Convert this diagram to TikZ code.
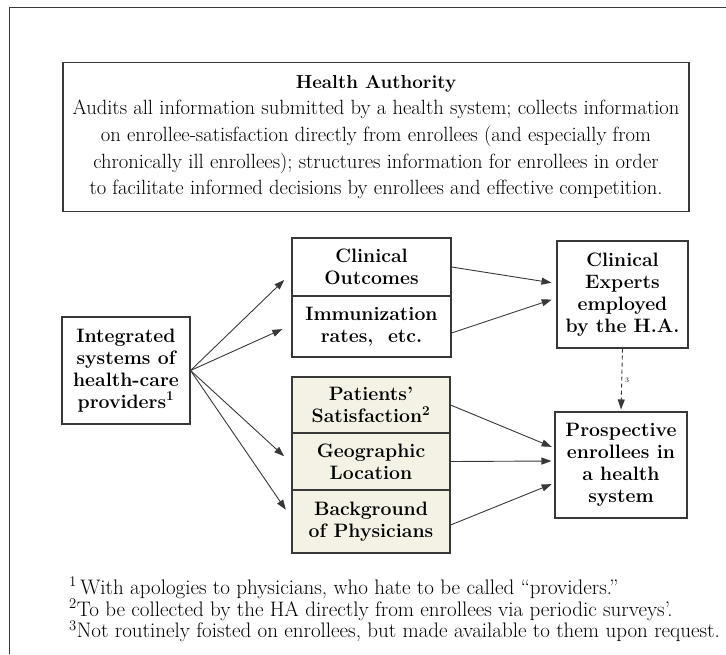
\documentclass[tikz,border=0pt]{standalone}
\usepackage{fontspec}
\usetikzlibrary{arrows.meta}

\definecolor{inkgray}{gray}{0.22}
\definecolor{shaded}{RGB}{243,242,228}

\tikzset{
  box/.style={rectangle,draw=inkgray,line width=1.1pt,align=center,inner sep=0pt,
    font=\bfseries\fontsize{19.4}{22}\selectfont},
  link/.style={draw=inkgray,line width=0.9pt,-{Triangle[length=10pt,width=7pt]}},
  note/.style={anchor=west,inner sep=0pt,font=\fontsize{21}{21.5}\selectfont}
}

\begin{document}
\begin{tikzpicture}[x=1pt,y=-1pt]
      \useasboundingbox (0,0) rectangle (726,654);
      \draw[inkgray,line width=0.8pt] (9,654) -- (9,7) -- (726,7);

      \node[box,minimum width=626pt,minimum height=149pt,font=\fontsize{20.6}{26.7}\selectfont]
        (ha) at (376,137) {{\bfseries\fontsize{18.8}{26.7}\selectfont Health Authority}\\
        Audits all information submitted by a health system; collects information\\
        on enrollee-satisfaction directly from enrollees (and especially from\\
        chronically ill enrollees); structures information for enrollees in order\\
        to facilitate informed decisions by enrollees and effective competition.};

      \begin{scope}[every node/.style=box]
        \node[minimum width=128pt,minimum height=107pt] (isys) at (126,370.5)
          {Integrated\\systems of\\health-care\\providers\textsuperscript{1}};
        \node[minimum width=159pt,minimum height=58pt] (clin) at (371.5,267) {Clinical\\Outcomes};
        \node[minimum width=159pt,minimum height=61pt] (immu) at (371.5,326.5) {Immunization\\rates,\ \ etc.};
        \node[fill=shaded,minimum width=158pt,minimum height=56pt] (pat) at (371,405)
          {Patients'\\Satisfaction\textsuperscript{2}};
        \node[fill=shaded,minimum width=158pt,minimum height=57pt] (geo) at (371,461.5) {Geographic\\Location};
        \node[fill=shaded,minimum width=158pt,minimum height=63pt] (bg) at (371,521.5) {Background\\of Physicians};
        \node[minimum width=131pt,minimum height=107pt] (exp) at (622.5,294.5)
          {Clinical\\Experts\\employed\\by the H.A.};
        \node[minimum width=132pt,minimum height=106pt] (pros) at (621,465)
          {Prospective\\enrollees in\\a health\\system};
      \end{scope}

      \begin{scope}[every edge/.style=link]
        \path (isys.east) edge[shorten >=10pt] ([yshift=-6pt]clin.west);
        \path (isys.east) edge[shorten >=10pt] ([yshift=1.5pt]immu.west);
        \path (isys.east) edge[shorten >=10pt] ([yshift=-1.5pt]geo.west);
        \path (isys.east) edge[shorten >=10pt] ([yshift=3.5pt]bg.west);
        \path (clin.east) edge[shorten >=5pt] ([yshift=11pt]exp.west);
        \path ([yshift=-6.5pt]immu.east) edge[shorten >=5pt] ([yshift=-3.5pt]exp.west);
        \path (pat.east) edge[shorten >=3pt] ([yshift=17pt]pros.west);
        \path (geo.east) edge[shorten >=3pt] ([yshift=4pt]pros.west);
        \path ([yshift=-3.5pt]bg.east) edge[shorten >=3pt] ([yshift=-18pt]pros.west);
        \path (exp.south) edge[dashed,dash pattern=on 4pt off 3pt,shorten >=2pt]
          node[right=3pt,inner sep=0pt,font=\fontsize{7}{8}\selectfont] {3} (pros.north);
      \end{scope}

      \node[note] (fn1) at (69,588) {\textsuperscript{1}\,With apologies to physicians, who hate to be called ``providers.''};
      \node[note] (fn2) at (69,609.5) {\textsuperscript{2}To be collected by the HA directly from enrollees via periodic surveys'.};
      \node[note] (fn3) at (69,631) {\textsuperscript{3}Not routinely foisted on enrollees, but made available to them upon request.};

    \end{tikzpicture}
\end{document}
